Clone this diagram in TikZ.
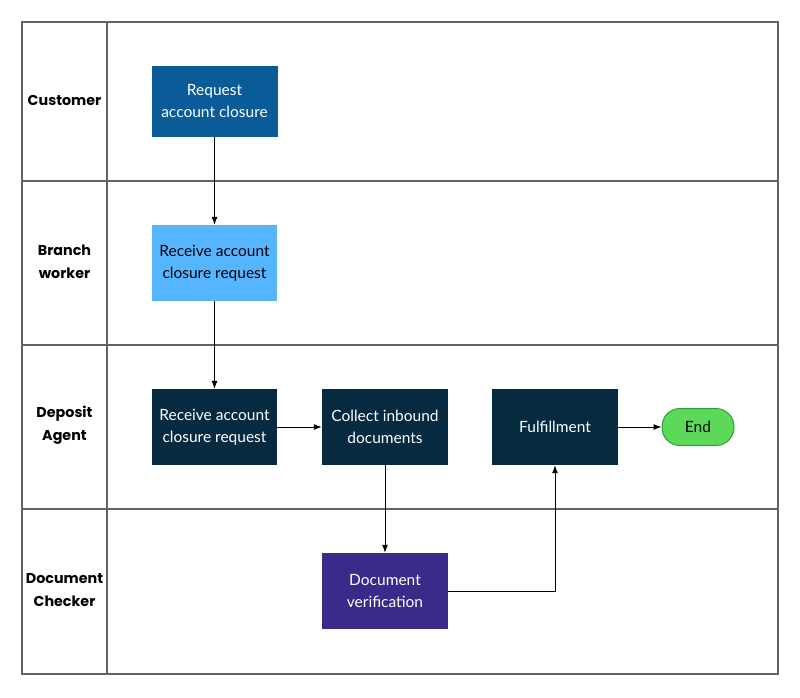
\documentclass[tikz,border=0pt]{standalone}
\usepackage{fontspec}
\setmainfont{Lato}
\newfontfamily\headfont{Poppins}
\usetikzlibrary{arrows.meta}
\definecolor{lanegray}{HTML}{5C636B}
\definecolor{reqblue}{HTML}{0A5C99}
\definecolor{lightblue}{HTML}{55B6FF}
\definecolor{navy}{HTML}{062B41}
\definecolor{purp}{HTML}{3B2A8A}
\definecolor{endgreen}{HTML}{5DD95A}
\definecolor{endborder}{HTML}{2E9E45}
\begin{document}
\begin{tikzpicture}[x=1pt,y=-1pt,
  lane/.style={draw=lanegray,line width=1.2pt},
  hdr/.style={font=\headfont\bfseries\fontsize{14.3}{23}\selectfont,align=center,text=black},
  task/.style={minimum width=126pt,minimum height=76pt,inner sep=0pt,align=center,
    font=\fontsize{15.5}{22}\selectfont,text=white},
  flow/.style={draw=black,line width=1pt,-{Latex[length=8pt,width=6pt]}}
  ]
\useasboundingbox (0,0) rectangle (800,697);
\fill[white] (0,0) rectangle (800,697);
% lanes
\draw[lane] (22,22) rectangle (778,674);
\draw[lane] (107,22) -- (107,674);
\draw[lane] (22,181) -- (778,181);
\draw[lane] (22,345) -- (778,345);
\draw[lane] (22,509) -- (778,509);
\node[hdr] (h1) at (64.5,100) {Customer};
\node[hdr] (h2) at (64.5,261.5) {Branch\\worker};
\node[hdr] (h3) at (64.5,425.5) {Deposit\\Agent};
\node[hdr] (h4) at (64.5,590) {Document\\Checker};
% tasks
\node[task,fill=reqblue,minimum height=71pt] (req) at (214.5,101.5) {Request\\account closure};
\node[task,fill=lightblue,text=black,minimum width=125pt] (br) at (214.5,263) {Receive account\\closure request};
\node[task,fill=navy,minimum width=125pt] (dr) at (214.5,427) {Receive account\\closure request};
\node[task,fill=navy] (col) at (385,427) {Collect inbound\\documents};
\node[task,fill=navy] (ful) at (555,427) {Fulfillment};
\node[task,fill=purp] (dv) at (385,591) {Document\\verification};
\node[draw=endborder,line width=1pt,fill=endgreen,rounded corners=18pt,minimum width=72pt,minimum height=37pt,inner sep=0pt,font=\fontsize{15.5}{18}\selectfont] (end) at (698,427) {End};
% connectors
\draw[flow] (req.south) -- (br.north);
\draw[flow] (br.south) -- (dr.north);
\draw[flow] (dr.east) -- (col.west);
\draw[flow] (col.south) -- (dv.north);
\draw[flow] (dv.east) -| (ful.south);
\draw[flow] (ful.east) -- (end.west);
\end{tikzpicture}
\end{document}
